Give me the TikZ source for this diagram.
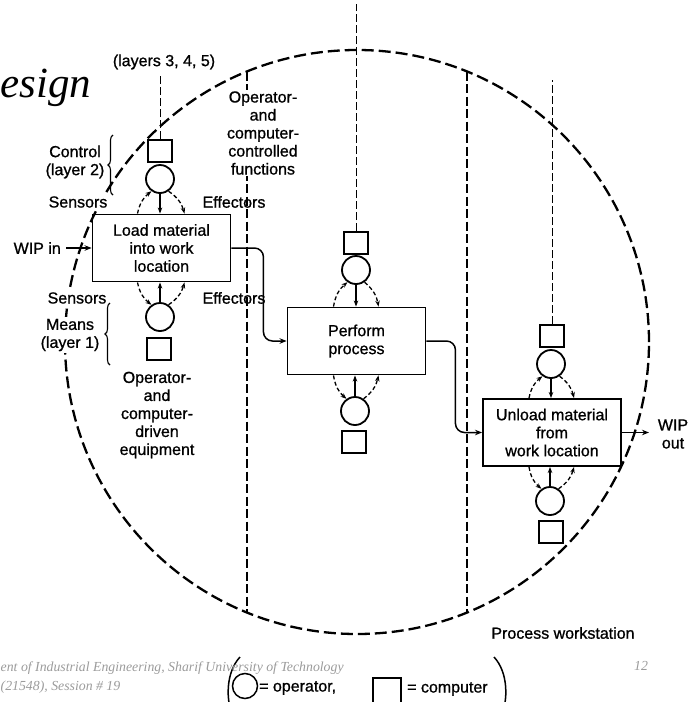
\documentclass[tikz,border=0pt]{standalone}
\usepackage{fontspec}
\setmainfont{Liberation Sans}[FakeBold=0.9]
\newfontfamily\tms{Liberation Serif}
\usetikzlibrary{arrows.meta,calc,decorations.pathreplacing}
\definecolor{footgray}{RGB}{155,155,155}
\begin{document}
\begin{tikzpicture}[x=1pt,y=-1pt,
  every node/.style={font=\fontsize{16}{18}\selectfont, inner sep=0pt},
  box/.style={draw, line width=1.9pt, minimum width=138pt, minimum height=67pt, align=center},
  opc/.style={draw, circle, line width=1.8pt, minimum size=28pt},
  cmp/.style={draw, line width=1.8pt, minimum width=24pt, minimum height=22pt},
  lbl/.style={align=center},
  lblw/.style={align=center, fill=white, inner sep=1.5pt},
  flow/.style={line width=1.5pt, -{Stealth[length=7pt,width=5.5pt]}, rounded corners=9pt},
  sig/.style={line width=1.3pt, -{Stealth[length=6pt,width=4.5pt]}},
  dsig/.style={sig, dash pattern=on 4pt off 2.5pt},
  bigdash/.style={line width=2.3pt, dash pattern=on 12pt off 5pt},
  vdash/.style={line width=2.5pt, dash pattern=on 9pt off 3.5pt},
  tdash/.style={line width=0.9pt, dash pattern=on 8pt off 3pt},
  brc/.style={decorate, decoration={brace, amplitude=5pt}, line width=1.1pt},
  foot/.style={font=\tms\itshape\fontsize{13.8}{16}\selectfont, text=footgray}
]
\useasboundingbox (0,0) rectangle (691,702);

% workstation boundary and separators
\draw[bigdash] (357,342) circle[radius=292pt];
\coordinate (v1t) at (247,71.5);  \coordinate (v1b) at (247,612.5);
\coordinate (v2t) at (467,71.5);  \coordinate (v2b) at (467,612.5);
\draw[vdash] (v1t) -- (v1b);
\draw[vdash] (v2t) -- (v2b);

% boxes
\node[box] (b1) at (161.5,248) {Load material\\into work\\location};
\node[box] (b2) at (356.5,341) {Perform\\process};
\node[box] (b3) at (552,432.5) {Unload material\\from\\work location};

% operators and computers
\node[opc] (c1t) at (160,179) {};
\node[cmp] (s1t) at (160,151) {};
\node[opc] (c1b) at (160,317) {};
\node[cmp] (s1b) at (159,349) {};
\node[opc] (c2t) at (356,270) {};
\node[cmp] (s2t) at (356,243) {};
\node[opc] (c2b) at (355,411) {};
\node[cmp] (s2b) at (354,442) {};
\node[opc] (c3t) at (551,364) {};
\node[cmp] (s3t) at (552,336) {};
\node[opc] (c3b) at (550,501) {};
\node[cmp] (s3b) at (551,532) {};

% control lines from higher layers
\draw[tdash] (s1t.north) -- ++(0,-63);
\draw[tdash] (s2t.north) -- ++(0,-227);
\draw[tdash] (s3t.north) -- ++(0,-244);

% sensor / effector signals
\draw[sig] (c1t.south) -- (c1t.south |- b1.north);
\draw[dsig] ($(b1.north)+(-24,0)$) to[bend left=20] (c1t.235);
\draw[dsig] (c1t.-55) to[bend left=20] ($(b1.north)+(23,0)$);
\draw[sig] (c1b.north) -- (c1b.north |- b1.south);
\draw[dsig] ($(b1.south)+(-24,0)$) to[bend right=20] (c1b.125);
\draw[dsig] (c1b.55) to[bend right=20] ($(b1.south)+(23,0)$);

\draw[sig] (c2t.south) -- (c2t.south |- b2.north);
\draw[dsig] ($(b2.north)+(-23,0)$) to[bend left=20] (c2t.235);
\draw[dsig] (c2t.-55) to[bend left=20] ($(b2.north)+(22,0)$);
\draw[sig] (c2b.north) -- (c2b.north |- b2.south);
\draw[dsig] ($(b2.south)+(-23,0)$) to[bend right=20] (c2b.125);
\draw[dsig] (c2b.55) to[bend right=20] ($(b2.south)+(22,0)$);

\draw[sig] (c3t.south) -- (c3t.south |- b3.north);
\draw[dsig] ($(b3.north)+(-23,0)$) to[bend left=20] (c3t.235);
\draw[dsig] (c3t.-55) to[bend left=20] ($(b3.north)+(22,0)$);
\draw[sig] (c3b.north) -- (c3b.north |- b3.south);
\draw[dsig] ($(b3.south)+(-23,0)$) to[bend right=20] (c3b.125);
\draw[dsig] (c3b.55) to[bend right=20] ($(b3.south)+(22,0)$);

% material flow
\coordinate (wipin) at (66,248);
\coordinate (wipout) at (649,432.5);
\draw[flow] (wipin) -- (b1.west);
\draw[flow] (b1.east) -- ++(32,0) |- (b2.west);
\draw[flow] (b2.east) -- ++(29,0) |- (b3.west);
\draw[flow] (b3.east) -- (wipout);
\node[anchor=east] (lwin) at (61,248) {WIP in};
\node[lbl] (lwout) at (673,434) {WIP\\out};

% labels
\node (l345) at (164,62) {(layers 3, 4, 5)};
\node[lbl] (lctl) at (75,162) {Control\\(layer 2)};
\draw[brc] (113,195) -- (113,135);
\node[lblw] (lsen1) at (78,202) {Sensors};
\node (leff1) at (234,202) {Effectors};
\node[lblw] (locf) at (263,133) {Operator-\\and\\computer-\\controlled\\functions};
\node[lblw] (lsen2) at (77,298) {Sensors};
\node (leff2) at (234,298) {Effectors};
\node[lblw] (lmeans) at (70,335) {Means\\(layer 1)};
\draw[brc] (110,365) -- (110,303);
\node[lbl] (locd) at (157,415) {Operator-\\and\\computer-\\driven\\equipment};
\node (lpw) at (563,633) {Process workstation};

% legend
\draw[line width=1.5pt] (240,657) .. controls (226,672) and (225,700) .. (234,720);
\draw[line width=1.5pt] (494,657) .. controls (508,672) and (509,700) .. (500,720);
\node[opc, minimum size=25pt, line width=1.5pt] (lgc) at (245,686) {};
\node[anchor=west] (lgo) at (259,688) {= operator,};
\node[cmp, minimum width=28pt, minimum height=28pt, line width=1.5pt] (lgs) at (387,692) {};
\node[anchor=west] (lgp) at (407,689) {= computer};

% slide residue
\node[font=\tms\itshape\fontsize{43}{43}\selectfont, anchor=base west] (ttl) at (0.5,97) {esign};
\node[foot, anchor=base west] (f1) at (0.5,671) {ent of Industrial Engineering, Sharif University of Technology};
\node[foot, anchor=base west] (f2) at (0.5,690) {(21548), Session \# 19};
\node[foot, anchor=base] (pg) at (641,670) {12};
\end{tikzpicture}
\end{document}
